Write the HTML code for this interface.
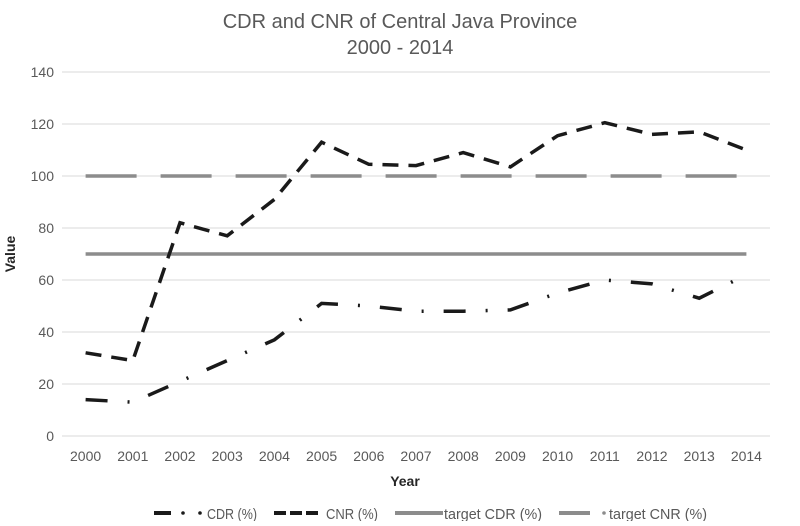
<!DOCTYPE html>
<html><head><meta charset="utf-8"><style>
body{margin:0;background:#fff;}
svg text{font-family:"Liberation Sans Narrow","Liberation Sans",sans-serif;}
</style></head><body>
<svg id="chart" width="800" height="521">
<text x="400" y="28" text-anchor="middle" font-size="20" fill="#595959">CDR and CNR of Central Java Province</text>
<text x="400" y="54" text-anchor="middle" font-size="20" fill="#595959">2000 - 2014</text>
<text transform="translate(15,254) rotate(-90)" text-anchor="middle" font-size="14" font-weight="bold" fill="#262626">Value</text>
<text x="405" y="486" text-anchor="middle" font-size="14" font-weight="bold" fill="#262626">Year</text>
<g id="grid"></g><g id="series"></g><g id="legend"></g>
</svg>
<script>
const years=[2000,2001,2002,2003,2004,2005,2006,2007,2008,2009,2010,2011,2012,2013,2014];
const cdr=[14,13,21,29,37,51,50,48,48,48.5,55,60,58.5,53,62];
const cnr=[32,29,82,77,91,113,104.5,104,109,103.5,115.5,120.5,116,117,110];
const targetCdr=70;
const targetCnr=100;
const yTicks=[0,20,40,60,80,100,120,140];
const NS="http://www.w3.org/2000/svg";
const X0=62,X1=770,Y0=436,Y1=72;
const xs=i=>X0+(X1-X0)/years.length*(i+0.5);
const ys=v=>Y0-(v/140)*(Y0-Y1);
function mk(t,a,p){const e=document.createElementNS(NS,t);for(const k in a)e.setAttribute(k,a[k]);p.appendChild(e);return e;}
const grid=document.getElementById('grid');
yTicks.forEach(v=>{
 const l=mk('line',{x1:X0,x2:X1,y1:ys(v),y2:ys(v),stroke:'#d9d9d9','stroke-width':1},grid);
 
 
 const t=mk('text',{x:54,y:ys(v)+5,'text-anchor':'end','font-size':14,fill:'#595959'},grid);
 t.textContent=v;
 
 
});
years.forEach((y,i)=>{
 const t=mk('text',{x:xs(i),y:461,'text-anchor':'middle','font-size':14,fill:'#595959'},grid);
 t.textContent=y;
 
 
});
const s=document.getElementById('series');
const a=mk('line',{x1:xs(0),x2:xs(years.length-1),y1:ys(targetCdr),y2:ys(targetCdr),stroke:'#8c8c8c','stroke-width':3.5},s);


const b=mk('line',{x1:xs(0),x2:xs(years.length-1),y1:ys(targetCnr),y2:ys(targetCnr),stroke:'#8c8c8c','stroke-width':3.5,'stroke-dasharray':'51 24'},s);


const pts=arr=>arr.map((v,i)=>xs(i)+','+ys(v)).join(' ');
const c=mk('polyline',{points:pts(cnr),fill:'none',stroke:'#1a1a1a','stroke-width':3.5,'stroke-dasharray':'16 10'},s);


const d=mk('polyline',{points:pts(cdr),fill:'none',stroke:'#1a1a1a','stroke-width':3.5,'stroke-dasharray':'22 20 2 20'},s);


const lg=document.getElementById('legend');
const items=[['CDR (%)',154,207,50,'legend-cdr'],['CNR (%)',274,326,52,'legend-cnr'],['target CDR (%)',395,444,98,'legend-target-cdr'],['target CNR (%)',559,609,98,'legend-target-cnr']];
items.forEach(([lab,x,tx,tl,nm])=>{
 const g=mk('g',{},lg);
 
 
 if(nm==='legend-cdr'){mk('line',{x1:x,x2:x+17,y1:513,y2:513,stroke:'#1a1a1a','stroke-width':4},g);mk('circle',{cx:x+29,cy:513,r:1.8,fill:'#1a1a1a'},g);mk('circle',{cx:x+46,cy:513,r:1.8,fill:'#1a1a1a'},g);}
 else if(nm==='legend-cnr'){mk('line',{x1:x,x2:x+44,y1:513,y2:513,stroke:'#1a1a1a','stroke-width':4,'stroke-dasharray':'12 4'},g);}
 else if(nm==='legend-target-cdr'){mk('line',{x1:x,x2:x+48,y1:513,y2:513,stroke:'#8c8c8c','stroke-width':4},g);}
 else {mk('line',{x1:x,x2:x+31,y1:513,y2:513,stroke:'#8c8c8c','stroke-width':4},g);mk('circle',{cx:x+45,cy:513,r:1.8,fill:'#8c8c8c'},g);}
 const t=mk('text',{x:tx,y:519,'font-size':15,fill:'#595959',textLength:tl,lengthAdjust:'spacingAndGlyphs'},g);t.textContent=lab;
});
</script>
</body></html>
